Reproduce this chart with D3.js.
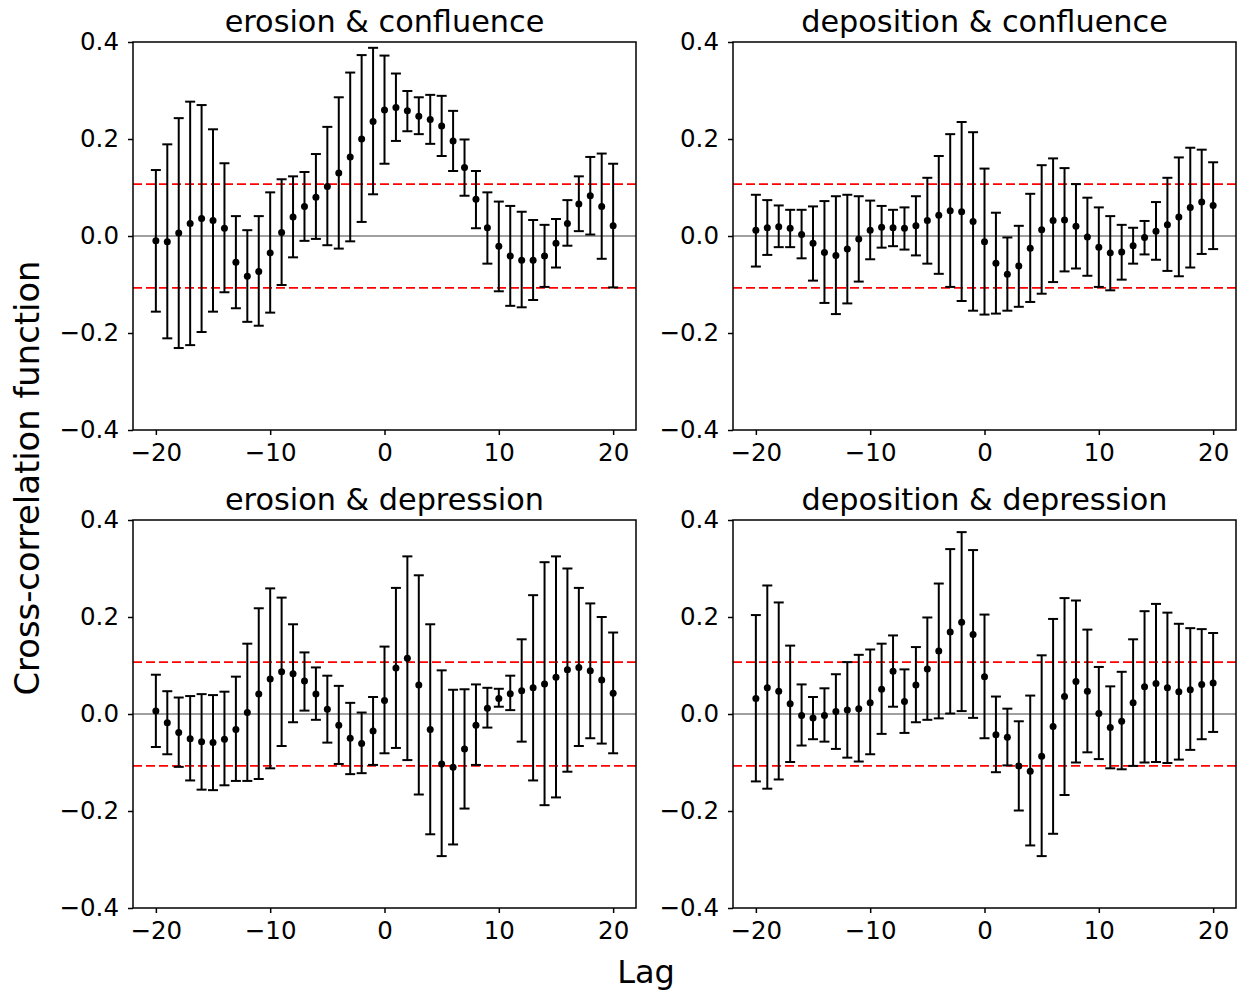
<!DOCTYPE html>
<html>
<head>
<meta charset="utf-8">
<script src="https://cdn.jsdelivr.net/npm/d3@7"></script>
<style>
  html, body { margin: 0; padding: 0; background: #fff; }
  svg { display: block; font-family: "DejaVu Sans", sans-serif; }
</style>
</head>
<body>
<svg id="chart" width="1244" height="994"></svg>
<script>
// ---- Data ----
const lags = d3.range(-20, 21);
const yTicks = [-0.4, -0.2, 0.0, 0.2, 0.4];
const xTicks = [-20, -10, 0, 10, 20];
const confBand = 0.107;
const titles = ["erosion & confluence", "deposition & confluence", "erosion & depression", "deposition & depression"];

const erosionConfluenceValue = [-0.010, -0.012, 0.006, 0.026, 0.036, 0.032, 0.016, -0.054, -0.083, -0.073, -0.035, 0.007, 0.039, 0.061, 0.080, 0.102, 0.130, 0.163, 0.200, 0.236, 0.260,
  0.265, 0.258, 0.247, 0.240, 0.227, 0.196, 0.141, 0.076, 0.017, -0.021, -0.041, -0.050, -0.050, -0.041, -0.015, 0.026, 0.066, 0.083, 0.061, 0.021];
const erosionConfluenceUpper = [0.136, 0.189, 0.243, 0.277, 0.270, 0.220, 0.150, 0.041, 0.012, 0.041, 0.090, 0.117, 0.123, 0.132, 0.169, 0.225, 0.286, 0.337, 0.373, 0.388, 0.372,
  0.335, 0.299, 0.286, 0.291, 0.289, 0.258, 0.199, 0.134, 0.090, 0.071, 0.062, 0.050, 0.033, 0.023, 0.035, 0.074, 0.123, 0.163, 0.170, 0.149];
const erosionConfluenceLower = [-0.156, -0.211, -0.231, -0.225, -0.198, -0.156, -0.116, -0.149, -0.177, -0.185, -0.158, -0.101, -0.044, -0.010, -0.006, -0.019, -0.026, -0.011, 0.029, 0.086, 0.149,
  0.196, 0.216, 0.210, 0.190, 0.165, 0.134, 0.083, 0.016, -0.057, -0.114, -0.144, -0.147, -0.132, -0.105, -0.065, -0.020, 0.010, 0.003, -0.047, -0.106];

const depositionConfluenceValue = [0.012, 0.017, 0.019, 0.016, 0.003, -0.015, -0.034, -0.040, -0.027, -0.006, 0.012, 0.018, 0.017, 0.016, 0.021, 0.032, 0.043, 0.052, 0.050, 0.030, -0.012,
  -0.056, -0.079, -0.062, -0.025, 0.013, 0.032, 0.033, 0.020, -0.002, -0.023, -0.035, -0.033, -0.020, -0.003, 0.010, 0.023, 0.039, 0.059, 0.070, 0.063];
const depositionConfluenceUpper = [0.085, 0.074, 0.063, 0.054, 0.054, 0.061, 0.072, 0.082, 0.085, 0.082, 0.073, 0.062, 0.054, 0.059, 0.082, 0.120, 0.165, 0.210, 0.235, 0.214, 0.139,
  0.048, -0.003, 0.021, 0.087, 0.146, 0.160, 0.140, 0.107, 0.079, 0.059, 0.041, 0.023, 0.017, 0.031, 0.070, 0.120, 0.162, 0.182, 0.178, 0.152];
const depositionConfluenceLower = [-0.063, -0.039, -0.023, -0.023, -0.046, -0.092, -0.138, -0.161, -0.139, -0.094, -0.048, -0.024, -0.021, -0.028, -0.040, -0.057, -0.078, -0.105, -0.134, -0.154, -0.162,
  -0.160, -0.154, -0.146, -0.136, -0.119, -0.095, -0.073, -0.067, -0.082, -0.105, -0.112, -0.090, -0.057, -0.038, -0.049, -0.072, -0.083, -0.065, -0.037, -0.027];

const erosionDepressionValue = [0.006, -0.018, -0.038, -0.051, -0.057, -0.059, -0.052, -0.032, 0.003, 0.041, 0.072, 0.087, 0.083, 0.068, 0.041, 0.010, -0.023, -0.050, -0.061, -0.035, 0.028,
  0.095, 0.115, 0.060, -0.032, -0.103, -0.110, -0.072, -0.023, 0.012, 0.032, 0.042, 0.048, 0.054, 0.062, 0.076, 0.091, 0.096, 0.089, 0.070, 0.043];
const erosionDepressionUpper = [0.081, 0.047, 0.034, 0.037, 0.041, 0.039, 0.046, 0.077, 0.145, 0.218, 0.259, 0.240, 0.185, 0.127, 0.096, 0.079, 0.058, 0.023, 0.003, 0.035, 0.139,
  0.260, 0.325, 0.286, 0.185, 0.090, 0.050, 0.051, 0.061, 0.054, 0.052, 0.079, 0.154, 0.245, 0.313, 0.325, 0.300, 0.260, 0.228, 0.200, 0.168];
const erosionDepressionLower = [-0.068, -0.083, -0.109, -0.137, -0.156, -0.157, -0.147, -0.138, -0.138, -0.134, -0.112, -0.066, -0.017, 0.007, -0.012, -0.059, -0.103, -0.124, -0.122, -0.105, -0.081,
  -0.070, -0.095, -0.166, -0.248, -0.293, -0.269, -0.195, -0.105, -0.028, 0.015, 0.008, -0.057, -0.137, -0.188, -0.172, -0.119, -0.066, -0.050, -0.061, -0.081];

const depositionDepressionValue = [0.032, 0.054, 0.047, 0.021, -0.003, -0.008, -0.003, 0.005, 0.008, 0.011, 0.023, 0.051, 0.088, 0.026, 0.060, 0.093, 0.130, 0.169, 0.189, 0.164, 0.077,
  -0.043, -0.048, -0.107, -0.118, -0.087, -0.026, 0.036, 0.067, 0.047, 0.001, -0.028, -0.015, 0.023, 0.056, 0.063, 0.054, 0.046, 0.050, 0.061, 0.064];
const depositionDepressionUpper = [0.204, 0.265, 0.230, 0.141, 0.061, 0.035, 0.053, 0.082, 0.107, 0.122, 0.133, 0.145, 0.162, 0.092, 0.138, 0.199, 0.269, 0.340, 0.375, 0.338, 0.205,
  0.036, 0.011, -0.015, 0.038, 0.121, 0.196, 0.239, 0.234, 0.174, 0.097, 0.057, 0.087, 0.154, 0.212, 0.227, 0.209, 0.186, 0.177, 0.175, 0.167];
const depositionDepressionLower = [-0.139, -0.154, -0.135, -0.099, -0.065, -0.052, -0.057, -0.072, -0.090, -0.098, -0.083, -0.041, 0.015, -0.039, -0.017, -0.012, -0.009, 0.001, 0.006, -0.008, -0.050,
  -0.120, -0.106, -0.199, -0.271, -0.293, -0.247, -0.167, -0.100, -0.079, -0.093, -0.112, -0.114, -0.107, -0.100, -0.099, -0.101, -0.094, -0.074, -0.052, -0.037];

const panels = [
  { title: titles[0], value: erosionConfluenceValue, upper: erosionConfluenceUpper, lower: erosionConfluenceLower },
  { title: titles[1], value: depositionConfluenceValue, upper: depositionConfluenceUpper, lower: depositionConfluenceLower },
  { title: titles[2], value: erosionDepressionValue, upper: erosionDepressionUpper, lower: erosionDepressionLower },
  { title: titles[3], value: depositionDepressionValue, upper: depositionDepressionUpper, lower: depositionDepressionLower }
];

// ---- Layout ----
const svg = d3.select("#chart");
const pw = 503, ph = 388;
const colX = [133, 733], rowY = [42, 520];
const tickFont = 24.5, titleFont = 30.3;

const x = d3.scaleLinear().domain([-22, 22]).range([0, pw]);
const y = d3.scaleLinear().domain([-0.4, 0.4]).range([ph, 0]);

panels.forEach((p, i) => {
  const g = svg.append("g").attr("transform", `translate(${colX[i % 2]},${rowY[Math.floor(i / 2)]})`);

  // zero line
  g.append("line").attr("x1", 0).attr("x2", pw).attr("y1", y(0)).attr("y2", y(0))
    .attr("stroke", "#808080").attr("stroke-width", 1.7);
  // confidence bands
  [confBand, -confBand].forEach(v => {
    g.append("line").attr("x1", 0).attr("x2", pw).attr("y1", y(v)).attr("y2", y(v))
      .attr("stroke", "#ff0000").attr("stroke-width", 1.7).attr("stroke-dasharray", "9,4");
  });

  const data = lags.map((l, k) => ({ lag: l, v: p.value[k], lo: p.lower[k], hi: p.upper[k] }));
  const eb = g.append("g").attr("stroke", "#000").attr("stroke-width", 2);
  eb.selectAll("line.v").data(data).join("line").attr("class", "v")
    .attr("x1", d => x(d.lag)).attr("x2", d => x(d.lag))
    .attr("y1", d => y(d.lo)).attr("y2", d => y(d.hi));
  eb.selectAll("line.ct").data(data).join("line").attr("class", "ct")
    .attr("x1", d => x(d.lag) - 5).attr("x2", d => x(d.lag) + 5)
    .attr("y1", d => y(d.hi)).attr("y2", d => y(d.hi));
  eb.selectAll("line.cb").data(data).join("line").attr("class", "cb")
    .attr("x1", d => x(d.lag) - 5).attr("x2", d => x(d.lag) + 5)
    .attr("y1", d => y(d.lo)).attr("y2", d => y(d.lo));
  g.selectAll("circle").data(data).join("circle")
    .attr("cx", d => x(d.lag)).attr("cy", d => y(d.v)).attr("r", 3.5).attr("fill", "#000");

  // frame
  g.append("rect").attr("x", 0).attr("y", 0).attr("width", pw).attr("height", ph)
    .attr("fill", "none").attr("stroke", "#000").attr("stroke-width", 1.5);

  // axes
  const xa = g.append("g").attr("transform", `translate(0,${ph})`)
    .call(d3.axisBottom(x).tickValues(xTicks).tickFormat(d3.format("d")).tickSizeOuter(0).tickSize(5).tickPadding(9));
  const ya = g.append("g")
    .call(d3.axisLeft(y).tickValues(yTicks).tickFormat(d3.format(".1f")).tickSizeOuter(0).tickSize(5).tickPadding(9));
  [xa, ya].forEach(a => {
    a.select(".domain").remove();
    a.selectAll(".tick line").attr("stroke", "#000").attr("stroke-width", 1.5);
    a.selectAll(".tick text").attr("fill", "#000").style("font-size", tickFont + "px")
      .style("font-family", "'DejaVu Sans', sans-serif");
  });

  // title
  g.append("text").attr("x", pw / 2).attr("y", -10).attr("text-anchor", "middle")
    .style("font-size", titleFont + "px").attr("fill", "#000").text(p.title);
});

// shared labels
svg.append("text").attr("transform", "translate(39,478) rotate(-90)").attr("text-anchor", "middle")
  .style("font-size", "33.8px").attr("fill", "#000").text("Cross-correlation function");
svg.append("text").attr("x", 646).attr("y", 983).attr("text-anchor", "middle")
  .style("font-size", "32px").attr("fill", "#000").text("Lag");
</script>
</body>
</html>
